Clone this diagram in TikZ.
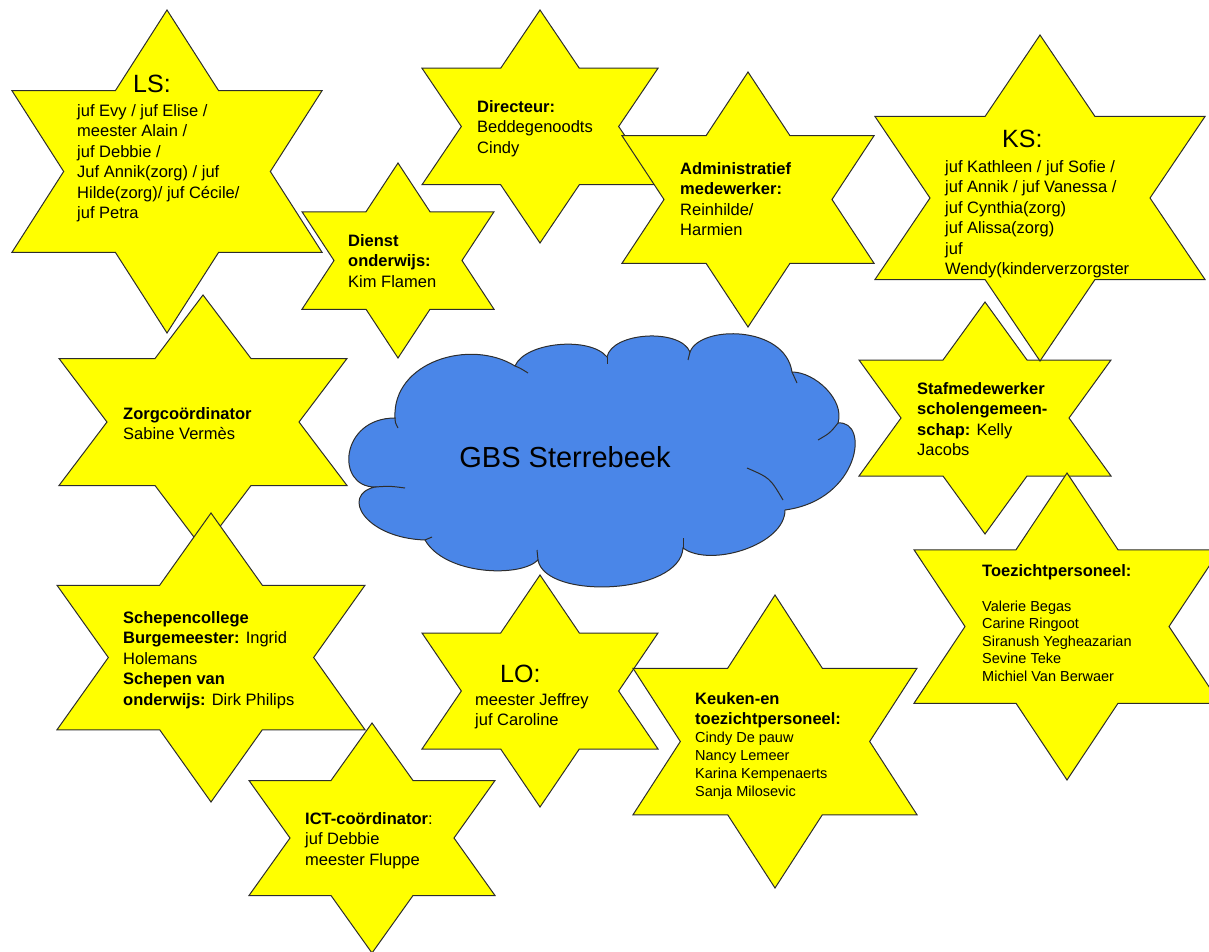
\documentclass[tikz,border=0pt]{standalone}
\usepackage{fontspec}
\setmainfont{Liberation Sans}
\definecolor{stergeel}{RGB}{255,255,0}
\definecolor{sterrand}{RGB}{45,45,45}
\definecolor{wolkblauw}{RGB}{74,134,232}
\tikzset{
x=1pt, y=-1pt, % coordinates in pixels, y runs down
ster/.style={draw=sterrand, fill=stergeel, line width=1pt, line join=miter}, % the six-pointed stars
wolk/.style={draw=sterrand, fill=wolkblauw, line width=1pt}, % the cloud in the middle
wolklijn/.style={draw=sterrand, line width=1pt}, % little inner arcs of the cloud
tekst/.style={align=left, anchor=north west, inner sep=0pt, font=\fontsize{16.5}{20.5}\selectfont}, % text inside a star
kop/.style={anchor=base west, inner sep=0pt, font=\fontsize{25}{30}\selectfont}, % big heading (LS:, KS:, LO:)
namen/.style={tekst, font=\fontsize{14.5}{18}\selectfont}, % smaller list of names
}
% star: centre x, centre y, half width, half height
\newcommand{\ster}[4]{%
  \draw[ster] (#1,{#2-#4}) -- ({#1+#3/3},{#2-#4/2}) -- ({#1+#3},{#2-#4/2}) -- ({#1+2*#3/3},#2)
    -- ({#1+#3},{#2+#4/2}) -- ({#1+#3/3},{#2+#4/2}) -- (#1,{#2+#4}) -- ({#1-#3/3},{#2+#4/2})
    -- ({#1-#3},{#2+#4/2}) -- ({#1-2*#3/3},#2) -- ({#1-#3},{#2-#4/2}) -- ({#1-#3/3},{#2-#4/2}) -- cycle;}
\newcommand{\kopvet}[1]{{\fontsize{16.5}{20.5}\selectfont\bfseries #1}}

\begin{document}
\begin{tikzpicture}
      \useasboundingbox (0,0) rectangle (1209,952);

      \ster{203}{422}{144}{127}
      \ster{167}{171.5}{155}{161.5}
      \ster{398}{260.5}{96}{97.5}
      \ster{540}{126.5}{118}{116.5}
      \ster{748}{199.5}{126}{127.5}
      \ster{985}{418}{126}{116}
      \ster{1040}{198}{165}{163}
      \ster{1067}{626.5}{153}{153.5}
      \ster{211}{657.5}{154}{144.5}
      \ster{372}{838}{123}{115}
      \ster{540}{691}{118}{116}
      \ster{775}{741.5}{142}{146.5}

      % the cloud
      \draw[wolk] (375,487) .. controls (335,487) and (340,418) .. (395,418)
        .. controls (392,362) and (470,338) .. (515,366)
        .. controls (525,342) and (590,336) .. (607,357)
        .. controls (612,332) and (680,328) .. (690,352)
        .. controls (700,325) and (785,325) .. (792,372)
        .. controls (815,372) and (845,400) .. (838,423)
        .. controls (870,420) and (860,500) .. (785,510)
        .. controls (785,545) and (710,568) .. (683,548)
        .. controls (680,595) and (545,600) .. (538,560)
        .. controls (520,578) and (445,575) .. (425,540)
        .. controls (365,538) and (340,495) .. (375,487) -- cycle;
      \draw[wolklijn] (395,418) .. controls (395,422) .. (398,428);
      \draw[wolklijn] (515,366) .. controls (520,368) .. (528,373);
      \draw[wolklijn] (607,357) .. controls (607,360) .. (607,364);
      \draw[wolklijn] (690,352) .. controls (689,356) .. (688,360);
      \draw[wolklijn] (792,372) .. controls (795,377) .. (797,383);
      \draw[wolklijn] (838,423) .. controls (830,433) .. (818,440);
      \draw[wolklijn] (747,468) .. controls (770,478) .. (783,500);
      \draw[wolklijn] (683,548) .. controls (683,543) .. (683,538);
      \draw[wolklijn] (538,560) .. controls (537,555) .. (537,550);
      \draw[wolklijn] (425,540) .. controls (428,538) .. (432,537);
      \draw[wolklijn] (375,487) .. controls (390,486) .. (405,488);

      \node[font=\fontsize{29}{34}\selectfont, anchor=base] (gbs) at (565,467) {GBS Sterrebeek};

      \node[kop] (lskop) at (133,93) {LS:};
      \node[tekst] (ls) at (77,104) {juf Evy / juf Elise /\\ meester Alain /\\ juf Debbie /\\ Juf Annik(zorg) / juf\\ Hilde(zorg)/ juf C\'ecile/\\ juf Petra};
      \node[tekst] (directeur) at (477,100) {\textbf{Directeur:}\\ Beddegenoodts\\ Cindy};
      \node[tekst] (dienst) at (348,234) {\textbf{Dienst}\\ \textbf{onderwijs:}\\ Kim Flamen};
      \node[tekst] (admin) at (680,162) {\textbf{Administratief}\\ \textbf{medewerker:}\\ Reinhilde/\\ Harmien};
      \node[kop] (kskop) at (1002,148) {KS:};
      \node[tekst] (ks) at (945,160) {juf Kathleen / juf Sofie /\\ juf Annik / juf Vanessa /\\ juf Cynthia(zorg)\\ juf Alissa(zorg)\\ juf\\ Wendy(kinderverzorgster};
      \node[tekst] (zorg) at (123,407) {\textbf{Zorgco\"ordinator}\\ Sabine Verm\`es};
      \node[tekst] (staf) at (917,382) {\textbf{Stafmedewerker}\\ \textbf{scholengemeen-}\\ \textbf{schap:} Kelly\\ Jacobs};
      \node[tekst] (schepen) at (123,611) {\textbf{Schepencollege}\\ \textbf{Burgemeester:} Ingrid\\ Holemans\\ \textbf{Schepen van}\\ \textbf{onderwijs:} Dirk Philips};
      \node[tekst] (ict) at (305,812) {\textbf{ICT-co\"ordinator}:\\ juf Debbie\\ meester Fluppe};
      \node[kop] (lokop) at (500,682) {LO:};
      \node[tekst] (lo) at (475,693) {meester Jeffrey\\ juf Caroline};
      \node[namen] (keuken) at (695,692) {\kopvet{Keuken-en}\\[2pt] \kopvet{toezichtpersoneel:}\\ Cindy De pauw\\ Nancy Lemeer\\ Karina Kempenaerts\\ Sanja Milosevic};
      \node[namen, font=\fontsize{14.5}{17.5}\selectfont] (toezicht) at (982,564) {\kopvet{Toezichtpersoneel:}\\[17.5pt] Valerie Begas\\ Carine Ringoot\\ Siranush Yegheazarian\\ Sevine Teke\\ Michiel Van Berwaer};
    \end{tikzpicture}
\end{document}
